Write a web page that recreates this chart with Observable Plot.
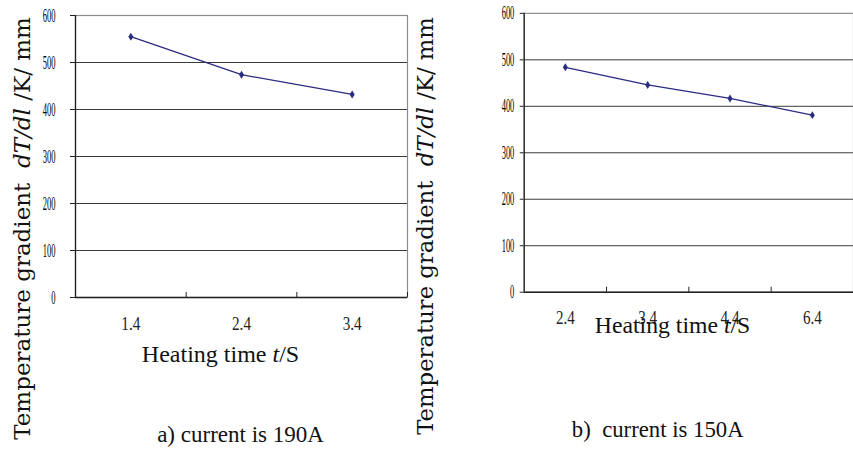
<!DOCTYPE html>
<html>
<head>
<meta charset="utf-8">
<script src="https://cdn.jsdelivr.net/npm/d3@7"></script>
<script src="https://cdn.jsdelivr.net/npm/@observablehq/plot@0.6"></script>
<style>
html, body { margin: 0; padding: 0; background: #fff; overflow: hidden; width: 853px; height: 454px; }
#wrap { position: relative; width: 853px; height: 454px; overflow: hidden; }
#a { position: absolute; left: 0; top: 0; }
#b { position: absolute; left: 410px; top: 0; }
</style>
</head>
<body>
<div id="wrap"><div id="a"></div><div id="b"></div></div>
<script>
// ---- data ----
const categoriesA = ["1.4", "2.4", "3.4"];
const valuesA = [555, 474, 432];
const categoriesB = ["2.4", "3.4", "4.4", "6.4"];
const valuesB = [484, 446, 417, 381];
const yTicks = [0, 100, 200, 300, 400, 500, 600];
const yTitle = "Temperature gradient  dT/dl /K/ mm";
const yTitleParts = [["Temperature gradient  ", false], ["dT/dl", true], [" /K/ mm", false]];
const xTitle = "Heating time t/S";
const xTitleParts = [["Heating time ", false], ["t", true], ["/S", false]];
const captionA = "a) current is 190A";
const captionB = "b)  current is 150A";

const navy = "#2B2B82";
const tallDiamond = {
  draw(ctx, size) {
    const r = Math.sqrt(size / Math.PI);
    ctx.moveTo(0, -r * 1.15);
    ctx.lineTo(r * 0.72, 0);
    ctx.lineTo(0, r * 1.15);
    ctx.lineTo(-r * 0.72, 0);
    ctx.closePath();
  }
};

function rich(svg, plain, parts) {
  d3.select(svg).selectAll("text").filter(function () { return this.textContent === plain; })
    .each(function () {
      const t = d3.select(this);
      t.text(null).attr("xml:space", "preserve").style("white-space", "pre");
      parts.forEach(([s, it]) => t.append("tspan").attr("font-style", it ? "italic" : null).text(s));
    });
}

function panel(cfg) {
  const cats = cfg.cats;
  const data = cats.map((c, i) => ({i, v: cfg.vals[i]}));
  const idx = d3.range(cats.length);
  const bounds = idx.map(i => i + 0.5);
  const svg = Plot.plot({
    width: cfg.width, height: 454,
    marginLeft: cfg.ml, marginRight: cfg.mr, marginTop: cfg.mt, marginBottom: cfg.mb,
    x: {domain: [-0.5, cats.length - 0.5], axis: null},
    y: {domain: [0, 600], axis: null},
    style: {background: "transparent", fontFamily: "Liberation Serif", overflow: "visible", color: "#111"},
    marks: [
      Plot.ruleY(yTicks.slice(1, -1), {stroke: "#3a3a3a", strokeWidth: 1}),
      Plot.frame({stroke: "#8c8c8c", strokeWidth: 1.2}),
      Plot.ruleX([-0.5], {stroke: "#222", strokeWidth: 1.3}),
      Plot.ruleY([0], {stroke: "#222", strokeWidth: 1.6}),
      Plot.axisY({ticks: yTicks, tickSize: cfg.yTickSize, tickPadding: cfg.yPad, label: null, stroke: "#222", fill: "#000"}),
      Plot.ruleX(bounds, {y1: 0, y2: 0, insetTop: -5, stroke: "#222"}),
      Plot.axisX({ticks: idx, tickFormat: i => cats[i], tickSize: 0, tickPadding: cfg.xPad, label: null, stroke: "#222", fill: "#222"}),
      Plot.line(data, {x: "i", y: "v", stroke: navy, strokeWidth: 1.3}),
      Plot.dot(data, {x: "i", y: "v", symbol: tallDiamond, r: 3.5, fill: navy, stroke: "none"}),
      Plot.text([xTitle], {text: d => d, frameAnchor: "bottom", lineAnchor: "bottom", dx: cfg.xtDx, dy: cfg.xtDy, fontSize: 24, fill: "#111"}),
      Plot.text([yTitle], {text: d => d, frameAnchor: "left", textAnchor: "middle", rotate: -90, dx: cfg.ytDx, dy: cfg.ytDy, fontSize: 23, fontFamily: "DejaVu Serif", fill: "#111"}),
      Plot.text([cfg.caption], {text: d => d, frameAnchor: "bottom", lineAnchor: "bottom", dx: cfg.capDx, dy: cfg.capDy, fontSize: 23, fill: "#111"})
    ]
  });
  d3.select(svg).selectAll('g[aria-label="y-axis tick label"] text')
    .attr("font-size", 19).style("font-size", "19px").attr("fill", "#000")
    .attr("transform", function () { return this.getAttribute("transform") + " scale(0.45,1)"; });
  d3.select(svg).selectAll('g[aria-label="x-axis tick label"] text')
    .attr("font-size", 19).style("font-size", "19px").attr("fill", "#222")
    .attr("transform", function () { return this.getAttribute("transform") + " scale(0.8,1)"; });
  rich(svg, yTitle, yTitleParts);
  rich(svg, xTitle, xTitleParts);
  return svg;
}

document.getElementById("a").appendChild(panel({
  cats: categoriesA, vals: valuesA, caption: captionA,
  width: 410, ml: 75, mr: 3, mt: 15, mb: 157,
  yTickSize: 5, yPad: 15, xPad: 19,
  xtDx: -21, xtDy: 64, ytDx: -53, ytDy: 72, capDx: -1, capDy: 144
}));
document.getElementById("b").appendChild(panel({
  cats: categoriesB, vals: valuesB, caption: captionB,
  width: 448, ml: 115, mr: 0, mt: 13, mb: 159,
  yTickSize: 4, yPad: 6, xPad: 19,
  xtDx: -16.5, xtDy: 41, ytDx: -100, ytDy: 74, capDx: -31.5, capDy: 146
}));
</script>
</body>
</html>
